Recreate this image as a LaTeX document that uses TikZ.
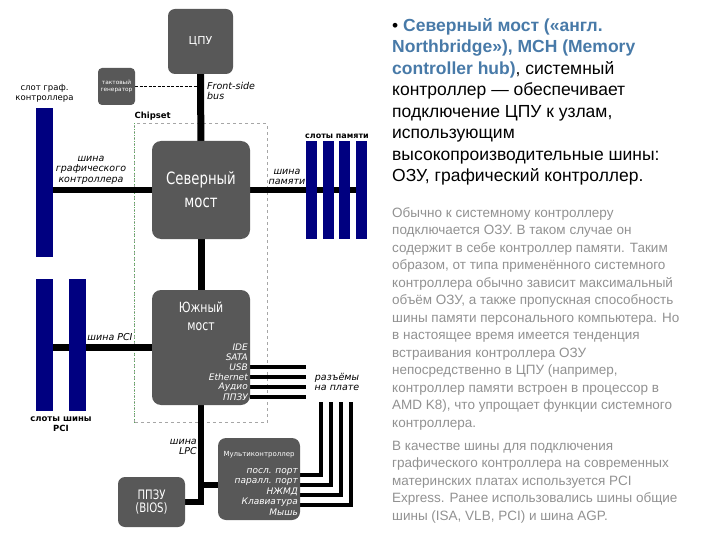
\documentclass[tikz,border=0pt]{standalone}
\usepackage{fontspec}
\setmainfont{Liberation Sans}
\newfontfamily\diagfont{DejaVu Sans}
\newfontfamily\diagnarrow[FakeStretch=0.78]{DejaVu Sans}
\usetikzlibrary{positioning,fit,backgrounds}
\definecolor{chipgray}{RGB}{88,88,88}
\definecolor{slotblue}{RGB}{0,0,128}
\definecolor{linkblue}{RGB}{72,122,168}
\definecolor{notegray}{RGB}{145,145,145}
\definecolor{edgegreen}{RGB}{90,170,90}

\begin{document}
\begin{tikzpicture}[x=1pt, y=-1pt,
  chip/.style={fill=chipgray, rounded corners=7pt, text=white, align=center,
               inner sep=0pt},
  slot/.style={fill=slotblue, inner sep=0pt, minimum width=17pt},
  memslot/.style={fill=slotblue, inner sep=0pt, minimum width=11pt,
                  minimum height=98pt},
  chipset/.style={draw=gray!70, dashed, line width=0.8pt, inner xsep=17pt,
                  inner ysep=17pt},
  bus/.style={line width=6.5pt},
  wire/.style={line width=3.5pt},
  tag/.style={font=\diagfont\itshape\fontsize{9.5}{10.5}\selectfont,
              align=center, inner sep=0pt},
  caption/.style={font=\diagfont\fontsize{8.5}{10}\selectfont, align=center,
                  inner sep=0pt},
  port/.style={font=\diagfont\itshape\fontsize{9}{10}\selectfont, text=white,
               inner sep=0pt},
  note/.style={anchor=north west, inner sep=0pt, align=left},
  ]
  \useasboundingbox (0,0) rectangle (720,540);

  % chips
  \node[chip, minimum size=65pt, font=\diagfont\fontsize{11}{12}\selectfont]
    (cpu) at (200.5,41.5) {ЦПУ};
  \node[chip, minimum size=37pt, rounded corners=4pt,
        font=\diagfont\fontsize{5.8}{7.5}\selectfont]
    (clk) at (116.5,86.5) {тактовый\\генератор};
  \node[chip, minimum size=98pt, rounded corners=9pt,
        font=\diagnarrow\fontsize{17}{23}\selectfont]
    (nb) at (201,190) {Северный\\мост};
  \node[chip, minimum width=98pt, minimum height=115pt, rounded corners=9pt,
        label={[font=\diagnarrow\fontsize{14}{18}\selectfont, text=white,
                align=center, anchor=north, yshift=-9pt]north:Южный\\мост}]
    (sb) at (201,347.5) {};
  \node[chip, minimum width=67pt, minimum height=50pt,
        font=\diagnarrow\fontsize{13}{13}\selectfont]
    (bios) at (151.5,502) {ППЗУ\\(BIOS)};
  \node[chip, minimum size=82pt, rounded corners=8pt] (mc) at (259,479) {};
  \node[font=\diagfont\fontsize{7}{8}\selectfont, text=white, inner sep=0pt,
        below=13pt of mc.north] (mctitle) {Мультиконтроллер};

  % slots
  \node[slot, minimum height=149pt] (agp) at (44.5,182.5) {};
  \node[slot, minimum height=132pt] (pci1) at (44.5,345) {};
  \node[slot, minimum height=132pt] (pci2) at (77.5,345) {};
  \foreach \x [count=\i] in {311.5,328,344.5,361}
    \node[memslot] (mem\i) at (\x,190) {};

  % ports
  \foreach \t [count=\i] in {IDE,SATA,USB,Ethernet,Аудио,ППЗУ}
    \node[port, anchor=east] (sbp\i) at (248,{337+10*\i}) {\t};
  \foreach \t [count=\i] in {посл. порт,паралл. порт,НЖМД,Клавиатура,Мышь}
    \node[port, anchor=east] (mcp\i) at (298,{462+10*\i}) {\t};
  \coordinate (plug) at (306,0);
  \foreach \i in {1,...,4}
    \coordinate (jack\i) at ({311+10*\i},402);

  % buses
  \begin{scope}[on background layer]
    \node[chipset, fit=(nb)(sb)] (chip) {};
    \draw[edgegreen, dotted, line width=0.9pt] (chip.north west) -- (chip.south west);
    \draw[line width=7pt] (cpu) -- (nb);
    \draw[line width=7pt] (nb) -- (sb);
    \draw[line width=1.3pt, dash pattern=on 3pt off 1.5pt] (clk) -- (clk -| cpu);
    \draw[bus] (nb) -- (nb -| agp);
    \draw[bus] (nb) -- (nb -| mem4);
    \draw[bus] (sb) -- (sb -| pci1);
    \draw[bus] (sb) |- (bios);
    \draw[bus] ([yshift=-6pt]mc.west -| sb) -- ([yshift=-6pt]mc.west);
    \foreach \i in {3,...,6}
      \draw[wire] (sbp\i.east -| sb.east) -- (sbp\i.east -| plug);
    \foreach \i in {1,...,4}
      \draw[wire] ([yshift=-3pt]mcp\i.east -| mc.east) -| (jack\i);
  \end{scope}

  % labels
  \node[font=\diagfont\bfseries\fontsize{8.5}{10}\selectfont, inner sep=0pt,
        above right=2.5pt and 0pt of chip.north west] (chipname) {Chipset};
  \node[tag, align=left, anchor=west] (fsb) at (207,91) {Front-side\\bus};
  \node[caption, above=5pt of agp] (agpname) {слот граф.\\контроллера};
  \node[tag] (agpbus) at (91,170) {шина\\графического\\контроллера};
  \node[caption, font=\diagfont\bfseries\fontsize{8}{10}\selectfont]
    (memname) at (337,136) {слоты памяти};
  \node[tag] (membus) at (287,177) {шина\\памяти};
  \node[tag] (pcibus) at (110,337) {шина PCI};
  \node[caption, font=\diagfont\bfseries\fontsize{8.5}{10.5}\selectfont]
    (pciname) at (61,424) {слоты шины\\PCI};
  \node[tag] (plugname) at (337,382) {разъёмы\\на плате};
  \node[tag, align=right, anchor=east] (lpcbus) at (197,447) {шина\\LPC};

  % text
  \node[note, font=\fontsize{17.5}{21.5}\selectfont] (northtext) at (392,18)
    {• \textcolor{linkblue}{\textbf{Северный мост («англ.}}\\
     \textcolor{linkblue}{\textbf{Northbridge»), MCH (Memory}}\\
     \textcolor{linkblue}{\textbf{controller hub)}}, системный\\
     контроллер — обеспечивает\\
     подключение ЦПУ к узлам,\\
     использующим\\
     высокопроизводительные шины:\\
     ОЗУ, графический контроллер.};
  \node[note, text=notegray, font=\fontsize{13.5}{17.5}\selectfont] (ramtext)
    at (392,207)
    {Обычно к системному контроллеру\\
     подключается ОЗУ. В таком случае он\\
     содержит в себе контроллер памяти. Таким\\
     образом, от типа применённого системного\\
     контроллера обычно зависит максимальный\\
     объём ОЗУ, а также пропускная способность\\
     шины памяти персонального компьютера. Но\\
     в настоящее время имеется тенденция\\
     встраивания контроллера ОЗУ\\
     непосредственно в ЦПУ (например,\\
     контроллер памяти встроен в процессор в\\
     AMD K8), что упрощает функции системного\\
     контроллера.};
  \node[note, text=notegray, font=\fontsize{13.5}{17.5}\selectfont] (bustext)
    at (392,441)
    {В качестве шины для подключения\\
     графического контроллера на современных\\
     материнских платах используется PCI\\
     Express. Ранее использовались шины общие\\
     шины (ISA, VLB, PCI) и шина AGP.};
\end{tikzpicture}
\end{document}
